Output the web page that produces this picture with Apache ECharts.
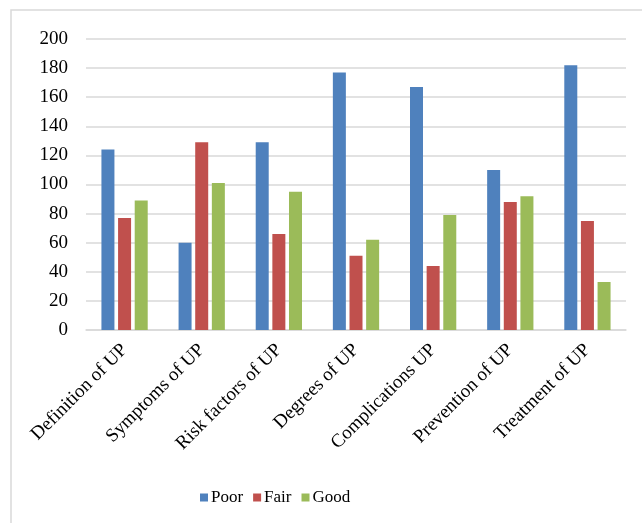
<!DOCTYPE html>
<html>
<head>
<meta charset="utf-8">
<script src="https://cdn.jsdelivr.net/npm/echarts@6/dist/echarts.min.js"></script>
<style>
html,body{margin:0;padding:0;background:#fff;}
#chart{width:642px;height:523px;}
</style>
</head>
<body>
<div id="chart"></div>
<script>
const categories = ["Definition of UP","Symptoms of UP","Risk factors of UP","Degrees of UP","Complications UP","Prevention of UP","Treatment of UP"];
const poor = [124, 60, 129, 177, 167, 110, 182];
const fair = [77, 129, 66, 51, 44, 88, 75];
const good = [89, 101, 95, 62, 79, 92, 33];
const seriesNames = ["Poor","Fair","Good"];
const yTicks = {min: 0, max: 200, interval: 20};

const FONT = "Liberation Serif";
const chart = echarts.init(document.getElementById('chart'));
const mk = (name, data, color) => ({
  name, type: 'bar', data,
  barWidth: 13, barGap: '28%',
  itemStyle: {color},
  emphasis: {disabled: true}
});
chart.setOption({
  animation: false,
  textStyle: {fontFamily: FONT},
  graphic: [{
    type: 'rect', shape: {x: 11, y: 10, width: 700, height: 600},
    style: {fill: 'none', stroke: '#d9d9d9', lineWidth: 1.5}, silent: true
  }],
  grid: {left: 86, right: 16, top: 39, bottom: 193, containLabel: false},
  legend: {
    data: seriesNames, left: 195, top: 484,
    icon: 'rect', itemWidth: 8, itemHeight: 8, itemGap: 10,
    textStyle: {fontFamily: FONT, fontSize: 17, color: '#000', padding: [0,0,0,-2]}
  },
  xAxis: {
    type: 'category', data: categories,
    axisLine: {lineStyle: {color: '#d9d9d9', width: 1.5}},
    axisTick: {show: false},
    axisLabel: {rotate: 45, interval: 0, margin: 17, fontFamily: FONT, fontSize: 19, color: '#000'}
  },
  yAxis: {
    type: 'value', min: yTicks.min, max: yTicks.max, interval: yTicks.interval,
    axisLine: {show: false}, axisTick: {show: false},
    splitLine: {lineStyle: {color: '#d9d9d9', width: 1.5}},
    axisLabel: {margin: 18, fontFamily: FONT, fontSize: 19, color: '#000'}
  },
  series: [
    mk(seriesNames[0], poor, '#4F81BD'),
    mk(seriesNames[1], fair, '#C0504D'),
    mk(seriesNames[2], good, '#9BBB59')
  ]
});
</script>
</body>
</html>
